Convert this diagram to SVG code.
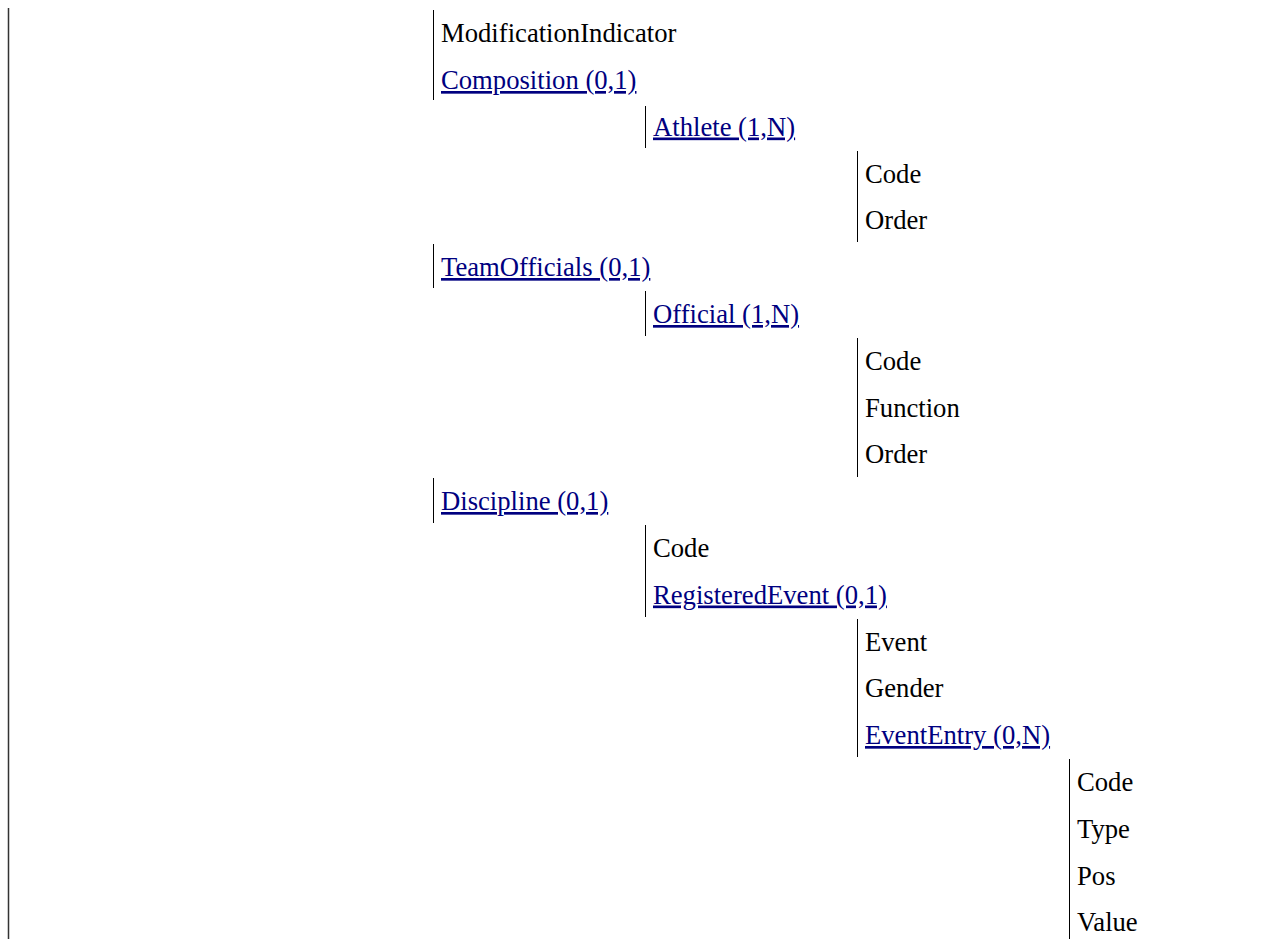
<svg xmlns="http://www.w3.org/2000/svg" width="1270" height="939" viewBox="0 0 1270 939">
<style>
.t{font-family:"Liberation Serif","Times New Roman",serif;font-size:26.67px;fill:#000}
.lk{fill:#000080;text-decoration:underline}
.bar{stroke:#000;stroke-width:1;fill:none}
.root{stroke:#333;stroke-width:1.5;fill:none}
</style>
<rect width="1270" height="939" fill="#fff"/>
<g id="connectors">
<line class="root" x1="8.5" y1="8" x2="8.5" y2="939"/>
<line class="bar" x1="433.5" y1="10" x2="433.5" y2="100"/>
<line class="bar" x1="645.5" y1="106" x2="645.5" y2="148"/>
<line class="bar" x1="857.5" y1="151" x2="857.5" y2="242"/>
<line class="bar" x1="433.5" y1="244" x2="433.5" y2="288"/>
<line class="bar" x1="645.5" y1="291" x2="645.5" y2="336"/>
<line class="bar" x1="857.5" y1="338" x2="857.5" y2="477"/>
<line class="bar" x1="433.5" y1="478" x2="433.5" y2="523"/>
<line class="bar" x1="645.5" y1="525" x2="645.5" y2="617"/>
<line class="bar" x1="857.5" y1="619" x2="857.5" y2="757"/>
<line class="bar" x1="1069.5" y1="759" x2="1069.5" y2="939"/>
</g>
<g id="root-block">
<text class="t" x="441" y="42">ModificationIndicator</text>
<text class="t lk" x="441" y="89">Composition (0,1)</text>
</g>
<g id="composition">
<text class="t lk" x="653" y="135.5">Athlete (1,N)</text>
</g>
<g id="athlete">
<text class="t" x="865" y="182.5">Code</text>
<text class="t" x="865" y="229">Order</text>
</g>
<g id="teamofficials">
<text class="t lk" x="441" y="276">TeamOfficials (0,1)</text>
</g>
<g id="official-list">
<text class="t lk" x="653" y="323">Official (1,N)</text>
</g>
<g id="official">
<text class="t" x="865" y="369.5">Code</text>
<text class="t" x="865" y="416.5">Function</text>
<text class="t" x="865" y="463">Order</text>
</g>
<g id="discipline">
<text class="t lk" x="441" y="510">Discipline (0,1)</text>
</g>
<g id="discipline-fields">
<text class="t" x="653" y="557">Code</text>
<text class="t lk" x="653" y="603.5">RegisteredEvent (0,1)</text>
</g>
<g id="registeredevent">
<text class="t" x="865" y="650.5">Event</text>
<text class="t" x="865" y="697">Gender</text>
<text class="t lk" x="865" y="744">EventEntry (0,N)</text>
</g>
<g id="evententry">
<text class="t" x="1077" y="791">Code</text>
<text class="t" x="1077" y="837.5">Type</text>
<text class="t" x="1077" y="884.5">Pos</text>
<text class="t" x="1077" y="931">Value</text>
</g>
</svg>
